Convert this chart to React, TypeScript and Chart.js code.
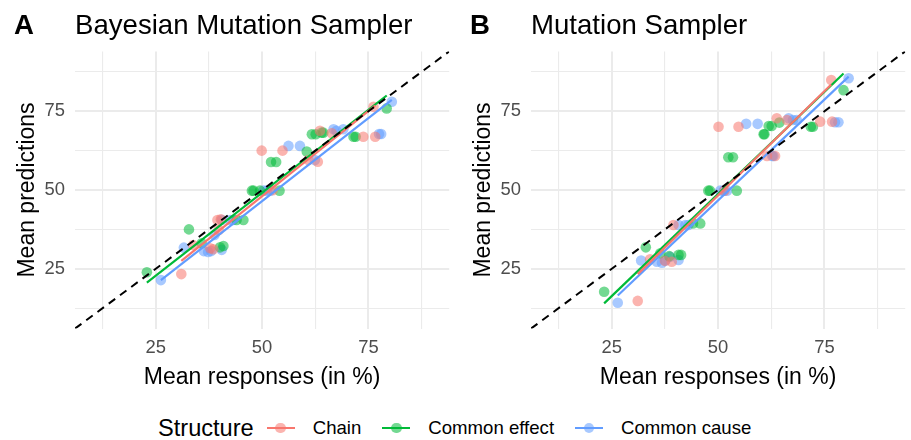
import React, { useEffect, useRef } from 'react';
import { Chart, registerables } from 'chart.js';

Chart.register(...registerables);

const FONT = '"Liberation Sans", Arial, sans-serif';

const structures = ['Chain', 'Common effect', 'Common cause'];
const colors = ['#F8766D', '#00BA38', '#619CFF'];
const pointColors = ['rgba(248,118,109,0.55)', 'rgba(0,186,56,0.55)', 'rgba(97,156,255,0.55)'];

const gridTicks = [12.5, 25, 37.5, 50, 62.5, 75, 87.5];
const tickLabels = [25, 50, 75];
const axisRange = [6, 94];
const identityLine = [6, 94];

// Panel A: Bayesian Mutation Sampler
const bmsChainX = [31.0, 33.8, 37.8, 38.5, 39.5, 40.3, 39.8, 49.9, 54.8, 52.5, 60.9, 63.1, 63.6, 66.4, 73.8, 76.6, 76.2];
const bmsChainY = [23.3, 32.5, 31.5, 31.2, 40.5, 40.7, 37.3, 62.5, 62.5, 49.9, 59.5, 59.0, 68.8, 68.0, 66.9, 66.9, 76.4];
const bmsEffectX = [22.9, 32.8, 35.8, 40.1, 40.9, 44.0, 45.6, 47.6, 48.0, 49.5, 54.1, 52.1, 53.3, 60.5, 61.7, 62.6, 64.0, 64.4, 71.5, 72.0, 79.3];
const bmsEffectY = [23.9, 37.5, 33.1, 31.8, 32.2, 40.5, 40.5, 49.8, 49.8, 49.8, 49.8, 58.9, 58.9, 62.2, 67.7, 67.7, 68.2, 68.2, 66.9, 66.9, 75.9];
const bmsCauseX = [26.2, 31.6, 36.3, 37.3, 38.0, 38.8, 40.5, 40.5, 42.5, 43.2, 50.3, 51.1, 51.9, 56.2, 58.9, 62.4, 66.8, 67.5, 69.1, 77.5, 78.0, 80.5];
const bmsCauseY = [21.4, 31.7, 30.6, 30.3, 30.6, 35.7, 31.0, 40.5, 40.5, 40.5, 49.8, 49.8, 49.8, 64.0, 64.0, 59.5, 69.3, 68.8, 69.3, 67.8, 67.8, 78.0];
// fitted line end points
const bmsChainFitX = [31.0, 76.6];
const bmsChainFitY = [27.5, 76.8];
const bmsEffectFitX = [22.9, 79.3];
const bmsEffectFitY = [20.6, 80.0];
const bmsCauseFitX = [26.2, 80.5];
const bmsCauseFitY = [21.4, 78.6];

// Panel B: Mutation Sampler
const msChainX = [31.1, 34.0, 37.5, 39.1, 39.5, 50.1, 54.8, 51.5, 61.5, 63.4, 63.8, 66.2, 74.0, 76.8, 76.6];
const msChainY = [14.8, 28.0, 27.5, 27.2, 38.9, 70.1, 70.1, 49.8, 60.8, 60.8, 72.8, 72.2, 71.7, 71.7, 84.9];
const msEffectX = [23.2, 33.0, 36.4, 38.5, 40.7, 41.3, 44.1, 45.8, 47.7, 48.1, 54.4, 52.4, 53.5, 60.7, 60.9, 61.9, 62.6, 64.4, 71.8, 72.3, 79.5];
const msEffectY = [17.7, 31.8, 29.9, 29.0, 29.4, 29.4, 39.4, 39.4, 49.8, 49.8, 49.8, 60.4, 60.4, 67.7, 67.7, 70.3, 70.3, 71.4, 70.1, 70.1, 81.7];
const msCauseX = [26.4, 31.9, 35.6, 36.8, 37.6, 38.7, 40.7, 40.7, 42.3, 43.0, 50.5, 51.3, 52.1, 56.6, 59.3, 62.7, 63.0, 66.6, 67.6, 68.5, 77.5, 78.3, 80.7];
const msCauseY = [14.2, 27.6, 27.2, 26.9, 27.6, 28.8, 27.8, 38.9, 38.9, 38.9, 49.8, 49.8, 49.8, 71.0, 71.0, 60.8, 60.8, 72.8, 72.2, 72.2, 71.5, 71.5, 85.5];
const msChainFitX = [31.1, 76.6];
const msChainFitY = [23.3, 83.5];
const msEffectFitX = [23.2, 79.5];
const msEffectFitY = [14.0, 87.0];
const msCauseFitX = [26.4, 80.7];
const msCauseFitY = [16.5, 86.0];

const zip = (xs: number[], ys: number[]) => xs.map((x, i) => ({ x, y: ys[i] }));

type Panel = {
  tag: string;
  title: string;
  points: [number[], number[]][];
  fits: [number[], number[]][];
};

const panels: Panel[] = [
  {
    tag: 'A',
    title: 'Bayesian Mutation Sampler',
    points: [[bmsChainX, bmsChainY], [bmsEffectX, bmsEffectY], [bmsCauseX, bmsCauseY]],
    fits: [[bmsChainFitX, bmsChainFitY], [bmsEffectFitX, bmsEffectFitY], [bmsCauseFitX, bmsCauseFitY]],
  },
  {
    tag: 'B',
    title: 'Mutation Sampler',
    points: [[msChainX, msChainY], [msEffectX, msEffectY], [msCauseX, msCauseY]],
    fits: [[msChainFitX, msChainFitY], [msEffectFitX, msEffectFitY], [msCauseFitX, msCauseFitY]],
  },
];

const W = 456;
const H = 400;

function makeConfig(p: Panel): any {
  const datasets: any[] = [];
  datasets.push({
    type: 'line',
    data: zip(identityLine, identityLine),
    borderColor: '#000000',
    borderWidth: 2,
    borderDash: [8, 6],
    pointRadius: 0,
    order: 0,
  });
  p.fits.forEach(([xs, ys], i) => {
    datasets.push({
      type: 'line',
      label: structures[i],
      data: zip(xs, ys),
      borderColor: colors[i],
      borderWidth: 2.2,
      pointRadius: 0,
      order: 1,
    });
  });
  p.points.forEach(([xs, ys], i) => {
    datasets.push({
      type: 'scatter',
      label: structures[i],
      data: zip(xs, ys),
      backgroundColor: pointColors[i],
      borderWidth: 0,
      pointRadius: 5.3,
      order: 2,
    });
  });

  const gridOpts = {
    color: '#EBEBEB',
    lineWidth: (c: any) => (c.tick && tickLabels.includes(c.tick.value) ? 2 : 1.1),
    drawTicks: false,
  };
  const tickCb = (v: any) => (tickLabels.includes(Number(v)) ? String(v) : '');
  const setTicks = (s: any) => {
    s.ticks = gridTicks.map((v) => ({ value: v }));
  };

  const titlePlugin = {
    id: 'panelTitle' + p.tag,
    afterDraw(chart: any) {
      const ctx = chart.ctx;
      ctx.save();
      ctx.fillStyle = '#000000';
      ctx.textBaseline = 'alphabetic';
      ctx.textAlign = 'left';
      ctx.font = `bold 27.6px ${FONT}`;
      ctx.fillText(p.tag, 14, 34);
      ctx.font = `27.6px ${FONT}`;
      ctx.fillText(p.title, chart.chartArea.left, 34);
      ctx.restore();
    },
  };

  return {
    type: 'scatter',
    data: { datasets },
    options: {
      animation: false,
      responsive: false,
      maintainAspectRatio: false,
      events: [],
      layout: { padding: { left: 0, right: 6.8, top: 51.4, bottom: 0 } },
      plugins: { legend: { display: false }, tooltip: { enabled: false }, title: { display: false } },
      scales: {
        x: {
          type: 'linear',
          min: axisRange[0],
          max: axisRange[1],
          afterBuildTicks: setTicks,
          afterFit: (s: any) => {
            s.height = H - 328.6;
          },
          grid: gridOpts,
          border: { display: false },
          ticks: {
            padding: 8,
            color: '#4D4D4D',
            font: { size: 18.4, family: FONT },
            callback: tickCb,
            maxRotation: 0,
            autoSkip: false,
          },
          title: {
            display: true,
            text: 'Mean responses (in %)',
            color: '#000000',
            font: { size: 23, family: FONT },
            padding: { top: 0, bottom: 9 },
          },
        },
        y: {
          type: 'linear',
          min: axisRange[0],
          max: axisRange[1],
          afterBuildTicks: setTicks,
          afterFit: (s: any) => {
            s.width = 75;
          },
          grid: gridOpts,
          border: { display: false },
          ticks: {
            padding: 10,
            color: '#4D4D4D',
            font: { size: 18.4, family: FONT },
            callback: tickCb,
            autoSkip: false,
          },
          title: {
            display: true,
            text: 'Mean predictions',
            color: '#000000',
            font: { size: 23, family: FONT },
            padding: { top: 14, bottom: 0 },
          },
        },
      },
    },
    plugins: [titlePlugin],
  };
}

function PanelChart({ panel, left }: { panel: Panel; left: number }) {
  const ref = useRef<HTMLCanvasElement | null>(null);
  useEffect(() => {
    if (!ref.current) return;
    const chart = new Chart(ref.current, makeConfig(panel));
    return () => chart.destroy();
  }, [panel]);
  return (
    <canvas
      ref={ref}
      width={W}
      height={H}
      style={{ position: 'absolute', left, top: 0, width: W, height: H }}
    />
  );
}

export default function App() {
  Chart.defaults.font.family = FONT;
  return (
    <div style={{ position: 'absolute', left: 0, top: 0, width: 911, height: 440, background: '#FFFFFF', overflow: 'hidden' }}>
      <PanelChart panel={panels[0]} left={0} />
      <PanelChart panel={panels[1]} left={456} />
      <div
        style={{
          position: 'absolute',
          left: 158,
          top: 414,
          height: 28,
          display: 'flex',
          alignItems: 'center',
          fontFamily: FONT,
          whiteSpace: 'nowrap',
          color: '#000000',
        }}
      >
        <span style={{ fontSize: 23.6, marginRight: 13 }}>Structure</span>
        {structures.map((s, i) => (
          <React.Fragment key={s}>
            <span style={{ position: 'relative', width: 28, height: 28, display: 'inline-block' }}>
              <span
                style={{
                  position: 'absolute',
                  left: 8.7,
                  top: 8.7,
                  width: 10.6,
                  height: 10.6,
                  borderRadius: '50%',
                  background: pointColors[i],
                }}
              />
              <span
                style={{
                  position: 'absolute',
                  left: 0,
                  top: 13,
                  width: 28,
                  height: 2.2,
                  background: colors[i],
                }}
              />
            </span>
            <span style={{ fontSize: 18.6, marginLeft: 18, marginRight: 21 }}>{s}</span>
          </React.Fragment>
        ))}
      </div>
    </div>
  );
}
